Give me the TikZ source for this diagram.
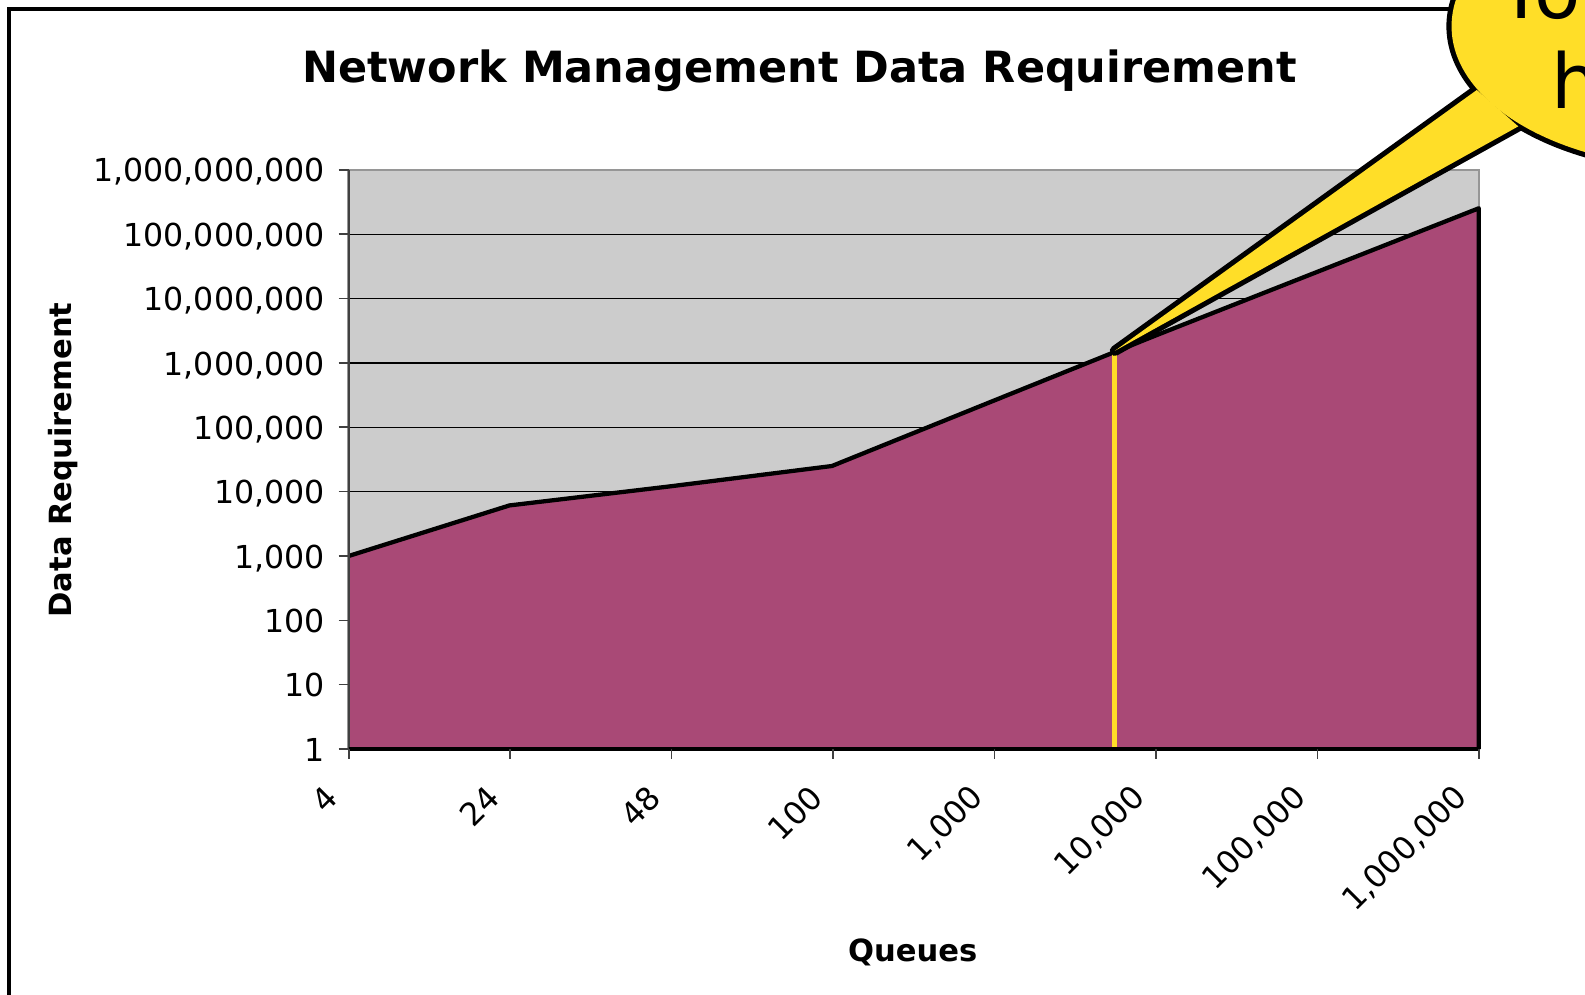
\documentclass[tikz,border=0pt]{standalone}
\usepackage{fontspec}
\setmainfont{DejaVu Sans}
\definecolor{areapurple}{RGB}{169,73,118}
\definecolor{plotgrey}{RGB}{204,204,204}
\definecolor{framegrey}{RGB}{150,150,150}
\definecolor{calloutyellow}{RGB}{255,222,40}
\usetikzlibrary{positioning,calc}

\begin{document}
\begin{tikzpicture}[x=0.01cm,y=-0.01cm,
    ticklabel/.style={font=\fontsize{8.9}{10}\selectfont, inner sep=0pt},
    axistitle/.style={font=\fontsize{8.6}{10}\selectfont\bfseries, inner sep=0pt},
    callouttext/.style={font=\fontsize{21.3}{25}\selectfont, inner sep=0pt}]
    \useasboundingbox (0,0) rectangle (1568,984);
    \begin{scope}
    \clip (0,0) rectangle (1568,984);

    % Outer frame
    \draw[line width=1pt] (9,1100) -- (9,9) -- (1700,9);

    % Title
    \node[font=\fontsize{12.1}{14}\selectfont\bfseries, anchor=base] (title) at (791,82) {Network Management Data Requirement};

    % Plot area and grid
    \fill[plotgrey] (345,168) rectangle (1463,741);
    \draw[framegrey, line width=0.7pt] (345,168) rectangle (1463,741);
    \foreach \k in {1,...,8}
        \draw[line width=0.35pt] (345,{741-\k*63.667}) -- (1463,{741-\k*63.667});

    % Data area
    \fill[areapurple] (345,741) -- (345,550) -- (504,500) -- (664,481) -- (823,461)
        -- (984,396) -- (1143,332) -- (1303,269) -- (1463,206) -- (1463,741) -- cycle;
    \draw[line width=1.2pt, line join=round] (345,550) -- (504,500) -- (664,481) -- (823,461)
        -- (984,396) -- (1143,332) -- (1303,269) -- (1463,206) -- (1463,741);

    % Marker line
    \draw[calloutyellow, line width=1.4pt] (1103,347) -- (1103,739);

    % Axes
    \draw[black!75, line width=0.45pt] (345,168) -- (345,741);
    \draw[line width=0.9pt] (345,741) -- (1463,741);
    \foreach \lab [count=\k from 0] in {{1},{10},{100},{1,000},{10,000},{100,000},{1,000,000},{10,000,000},{100,000,000},{1,000,000,000}} {
        \draw[black!75, line width=0.45pt] (335,{741-\k*63.667}) -- (345,{741-\k*63.667});
        \node[ticklabel, anchor=base east] at (322,{741-\k*63.667+12}) {\lab};
    }
    \foreach \lab [count=\i from 0] in {{4},{24},{48},{100},{1,000},{10,000},{100,000},{1,000,000}} {
        \draw[black!75, line width=0.45pt] ({345+\i*159.71},741) -- ({345+\i*159.71},751);
        \node[ticklabel, rotate=45, anchor=east] at ({345+\i*159.71-16},783) {\lab};
    }

    % Axis titles
    \node[axistitle, rotate=90] (ytitle) at (62,455) {Data Requirement};
    \node[axistitle, anchor=base] (xtitle) at (903,951) {Queues};

    % Callout
    \coordinate (tip) at (1103,347);
    \coordinate (upper) at (1461,89);
    \coordinate (lower) at (1502,125);
    \draw[line width=2.9pt] (1680,26) ellipse [x radius=244, y radius=140];
    \draw[line width=2.9pt, line join=round] (tip) -- (upper) -- (lower) -- cycle;
    \fill[calloutyellow] (1680,26) ellipse [x radius=244, y radius=140];
    \fill[calloutyellow] (tip) -- (upper) -- (lower) -- cycle;
    \node[callouttext, anchor=base] (youare) at (1619,18) {You are};
    \node[callouttext, anchor=base] (here) at (1619,107) {here};
    \end{scope}
\end{tikzpicture}
\end{document}
